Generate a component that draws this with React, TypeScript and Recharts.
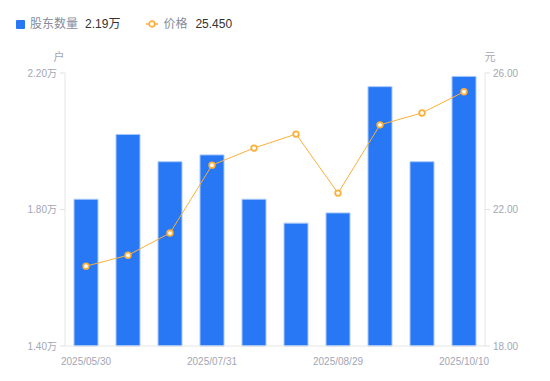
import { Bar, ComposedChart, Line, XAxis, YAxis } from 'recharts'

// 日期 / 股东户数(万) / 股价(元)
const dates = ['2025/05/30', '2025/06/20', '2025/07/10', '2025/07/31', '2025/08/10', '2025/08/20', '2025/08/29', '2025/09/10', '2025/09/30', '2025/10/10']
const holders = [1.83, 2.02, 1.94, 1.96, 1.83, 1.76, 1.79, 2.16, 1.94, 2.19]
const prices = [20.34, 20.66, 21.31, 23.3, 23.8, 24.21, 22.48, 24.48, 24.83, 25.45]

const leftTicks = [1.4, 1.8, 2.2]
const rightTicks = [18, 22, 26]

const data = dates.map((d, i) => ({ date: d, holders: holders[i], price: prices[i] }))

const FONT = '"Liberation Sans", Arial, "Noto Sans CJK SC", sans-serif'
const BLUE = '#2877f4'
const ORANGE = '#fbb03b'
const GRAY = '#a3a6b4'

function LegendBox () {
  return (
    <div style={{ position: 'absolute', left: 16, top: 16, display: 'flex', alignItems: 'center', fontSize: 12, fontFamily: FONT, color: '#888c99', lineHeight: '16px' }}>
      <span style={{ width: 9, height: 9, background: BLUE, borderRadius: 1, display: 'inline-block', marginRight: 5 }} />
      <span>股东数量</span>
      <span style={{ color: '#333', marginLeft: 7 }}>{holders[holders.length - 1].toFixed(2)}万</span>
      <svg width={12} height={8} style={{ marginLeft: 26, marginRight: 5 }}>
        <line x1={0} y1={4} x2={12} y2={4} stroke={ORANGE} strokeWidth={1.5} />
        <circle cx={6} cy={4} r={2.8} fill='#fff' stroke={ORANGE} strokeWidth={1.8} />
      </svg>
      <span>价格</span>
      <span style={{ color: '#333', marginLeft: 8 }}>{prices[prices.length - 1].toFixed(3)}</span>
    </div>
  )
}

export default function App () {
  return (
    <div style={{ position: 'absolute', left: 0, top: 0, width: 550, height: 381, background: '#fff' }}>
      <LegendBox />
      <ComposedChart width={550} height={381} data={data} margin={{ top: 73, right: 0, left: 0, bottom: 0 }} style={{ fontFamily: FONT }}>
        <XAxis
          dataKey='date'
          interval={2}
          tickLine={false}
          axisLine={{ stroke: '#e6e6e6' }}
          tick={{ fill: GRAY, fontSize: 10 }}
          tickMargin={6}
          height={35}
        />
        <YAxis
          yAxisId='left'
          domain={[1.4, 2.2]}
          ticks={leftTicks}
          width={65}
          tickSize={5}
          tickMargin={3}
          tickLine={{ stroke: '#e0e0e0' }}
          axisLine={{ stroke: '#e6e6e6' }}
          tick={{ fill: GRAY, fontSize: 10 }}
          tickFormatter={(v: number) => v.toFixed(2) + '万'}
          label={{
            content: (p: any) => (
              <text x={p.viewBox.x + p.viewBox.width - 6} y={p.viewBox.y - 12} textAnchor='middle' fill={GRAY} fontSize={11}>户</text>
            )
          }}
        />
        <YAxis
          yAxisId='right'
          orientation='right'
          domain={[18, 26]}
          ticks={rightTicks}
          width={65}
          tickSize={5}
          tickMargin={3}
          tickLine={{ stroke: '#e0e0e0' }}
          axisLine={{ stroke: '#e6e6e6' }}
          tick={{ fill: GRAY, fontSize: 10 }}
          tickFormatter={(v: number) => v.toFixed(2)}
          label={{
            content: (p: any) => (
              <text x={p.viewBox.x + 5} y={p.viewBox.y - 12} textAnchor='middle' fill={GRAY} fontSize={11}>元</text>
            )
          }}
        />
        <Bar yAxisId='left' dataKey='holders' fill={BLUE} stroke='#a9c9fb' strokeWidth={1} barSize={24} isAnimationActive={false} />
        <Line
          yAxisId='right'
          dataKey='price'
          stroke={ORANGE}
          strokeWidth={1}
          dot={{ r: 2.8, fill: '#fff', stroke: ORANGE, strokeWidth: 1.8 }}
          activeDot={false}
          isAnimationActive={false}
        />
      </ComposedChart>
    </div>
  )
}
